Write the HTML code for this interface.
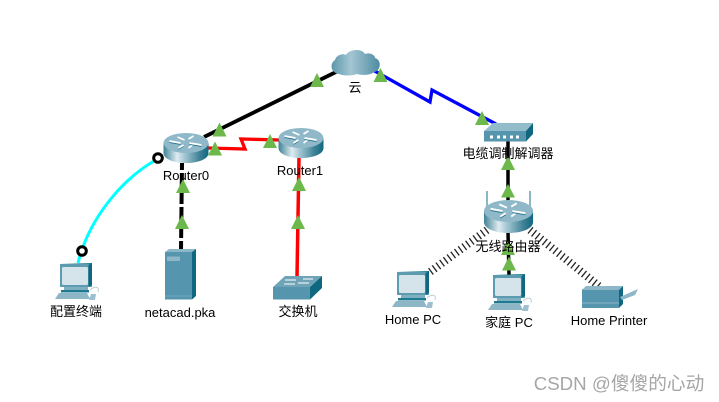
<!DOCTYPE html>
<html><head><meta charset="utf-8">
<style>
html,body{margin:0;padding:0;background:#fff;width:719px;height:402px;overflow:hidden}
svg{display:block}
text{font-family:"Liberation Sans","Noto Sans CJK SC",sans-serif;font-size:13px;fill:#000;text-anchor:middle}
</style></head><body>
<svg width="719" height="402" viewBox="0 0 719 402" xmlns="http://www.w3.org/2000/svg">
<defs>
<linearGradient id="rg" x1="0" x2="1" y1="0" y2="0">
<stop offset="0" stop-color="#3f8296"/><stop offset=".3" stop-color="#dfecf1"/><stop offset=".45" stop-color="#a9cad6"/><stop offset=".8" stop-color="#3f8296"/><stop offset="1" stop-color="#0f6880"/>
</linearGradient>
<linearGradient id="cg" x1="0" x2="1" y1="0" y2="0">
<stop offset="0" stop-color="#5c97ac"/><stop offset=".4" stop-color="#a4c6d3"/><stop offset="1" stop-color="#4f8ba2"/>
</linearGradient>
<g id="router">
<path d="M0 10V20C0 26 10 30 22.500 30S45 26 45 20V10Z" fill="url(#rg)"/>
<ellipse cx="22.500" cy="10" rx="22.500" ry="10" fill="#8fb9c9"/>
<g stroke="#fff" stroke-width="1.700" fill="none">
<path d="M6 8L17 10M14 4L21 7M25 6L30 3M26 10L38 12M15 15L20 12M25 15L29 12"/>
</g>
<g stroke="#1d6f86" stroke-width=".7" fill="none"><path d="M6 9.500L17 11.500M15 16.500L20 13.500M26 11.500L38 13.500"/></g>
</g>
<g id="pc">
<rect x="5" y="1" width="32" height="23" fill="#5c9bb0"/>
<path d="M5 1L37 0V1H5Z" fill="#1f7a91"/>
<path d="M33.500 2L37 0V22L33.500 24Z" fill="#0f6880"/>
<rect x="7" y="4" width="26" height="18" rx="1.500" fill="#d5e4eb"/>
<rect x="9" y="24" width="24" height="3" fill="#7fb0c1"/>
<rect x="6" y="27" width="28" height="2.500" fill="#1f7a91"/>
<path d="M4 30H32L35 36H0Z" fill="#8db6c6"/>
<path d="M36 31h5l-1 6h-6z" fill="#9cc0cf"/>
<path d="M35 27C39 23 45 23 43 29" fill="none" stroke="#b9cfd8" stroke-width="1"/>
</g>
</defs>

<!-- connections -->
<line x1="204" y1="137" x2="340" y2="70" stroke="#000" stroke-width="3.800"/>
<polyline points="208,148 245,149 241,139 280,140" fill="none" stroke="#f00" stroke-width="3.300"/>
<polyline points="373,70 430,102 432,90 496,124" fill="none" stroke="#00f" stroke-width="3.300"/>
<path d="M154 161C125 178 90 215 78 263" fill="none" stroke="#0ff" stroke-width="3"/>
<line x1="182" y1="163" x2="181" y2="250" stroke="#000" stroke-width="4" stroke-dasharray="31 3" stroke-dashoffset="24"/>
<line x1="299" y1="157" x2="297" y2="277" stroke="#f00" stroke-width="3.500"/>
<line x1="508" y1="140" x2="508" y2="202" stroke="#000" stroke-width="3.500"/>
<line x1="508" y1="232" x2="509" y2="275" stroke="#000" stroke-width="3.500"/>
<line x1="487" y1="230" x2="430" y2="272" stroke="#222" stroke-width="8" stroke-dasharray="1.300 3.300"/>
<line x1="530" y1="230" x2="600" y2="287" stroke="#222" stroke-width="8" stroke-dasharray="1.300 3.300"/>

<circle cx="158" cy="158" r="4.300" fill="#fff" stroke="#000" stroke-width="3"/>
<circle cx="82" cy="251" r="4.300" fill="#fff" stroke="#000" stroke-width="3"/>

<!-- cloud -->
<path d="M339 74C331 73 329 64 335 60C336 55 343 53 346 55C349 49 362 48 365 54C370 52 375 55 375 58C382 60 381 71 374 72C370 76 360 75 357 74C352 76 344 76 339 74Z" fill="url(#cg)"/>

<!-- routers -->
<use href="#router" x="163.500" y="133"/>
<use href="#router" x="278.500" y="128"/>

<!-- modem -->
<path d="M484 131L493 123H533L526 131Z" fill="#93bccb"/>
<rect x="484" y="131" width="42" height="10.500" fill="#5596ae"/>
<path d="M526 131L533 123V134L526 141.500Z" fill="#0f6880"/>
<g fill="#fff"><rect x="490" y="135.500" width="3" height="3"/><rect x="497" y="135.500" width="3" height="3"/><rect x="503" y="135.500" width="3" height="3"/><rect x="510" y="135.500" width="3" height="3"/><rect x="516" y="135.500" width="3" height="3"/></g>

<!-- wireless router -->
<path d="M487 191V212M530 191V212" stroke="#8db6c6" stroke-width="2" fill="none"/>
<g transform="translate(484,200) scale(1.090,1.100)"><use href="#router"/></g>

<!-- PCs -->
<use href="#pc" x="55" y="263"/>
<use href="#pc" x="392" y="271"/>
<use href="#pc" x="488" y="274"/>

<!-- server -->
<path d="M165 252L169 249H196L192 252Z" fill="#8db6c6"/>
<rect x="165" y="252" width="27" height="47.500" fill="#5596ae"/>
<path d="M192 252L196 249V296L192 299.500Z" fill="#0f6880"/>
<rect x="167" y="256.500" width="13" height="4.500" fill="#8db6c6"/>
<line x1="165" y1="296" x2="192" y2="296" stroke="#7fb0c1" stroke-width=".8"/>

<!-- switch -->
<path d="M273 287L285 276H322L310 287Z" fill="#6fa4b8"/>
<rect x="273" y="287" width="37" height="12.500" fill="#5596ae"/>
<path d="M310 287L322 276V288L310 299.500Z" fill="#0f6880"/>
<g stroke="#fff" stroke-width="1" fill="none"><path d="M285 280H296M303 279H313M284 284H295M298 283H309"/></g>

<!-- printer -->
<rect x="582" y="289" width="37" height="19" fill="#5596ae"/>
<path d="M582 290L586 286H623L619 290Z" fill="#8db6c6"/>
<path d="M619 290L623 286V304L619 308Z" fill="#0f6880"/>
<line x1="582" y1="303" x2="619" y2="303" stroke="#8db6c6" stroke-width="1"/>
<path d="M620 297L638 289L635 295L622 300Z" fill="#8db6c6"/>

<!-- triangles -->
<g fill="#6cb84a">
<path d="M317 73l7 14h-14z"/>
<path d="M380.500 68l7 14h-14z"/>
<path d="M219.500 122.500l7 14h-14z"/>
<path d="M215 141.500l7 14h-14z"/>
<path d="M270 134l7 14h-14z"/>
<path d="M482 111l7 14h-14z"/>
<path d="M508 156l7 14h-14z"/>
<path d="M508 184l7 13.500h-14z"/>
<path d="M508 241l7 14h-14z"/>
<path d="M509 256.500l7 14h-14z"/>
<path d="M183 179l7 14h-14z"/>
<path d="M182 215l7 14h-14z"/>
<path d="M299 177l7 14h-14z"/>
<path d="M298 215l7 14h-14z"/>
</g>

<!-- labels -->
<text x="355" y="92">云</text>
<text x="186" y="180">Router0</text>
<text x="300" y="175">Router1</text>
<text x="508" y="158">电缆调制解调器</text>
<text x="508" y="251">无线路由器</text>
<text x="76" y="316">配置终端</text>
<text x="180" y="317">netacad.pka</text>
<text x="298" y="316">交换机</text>
<text x="413" y="324">Home PC</text>
<text x="509" y="327">家庭 PC</text>
<text x="609" y="325">Home Printer</text>
<text x="619" y="390" style="font-size:18.700px;fill:#a6a6a6">CSDN @傻傻的心动</text>
</svg>
</body></html>
